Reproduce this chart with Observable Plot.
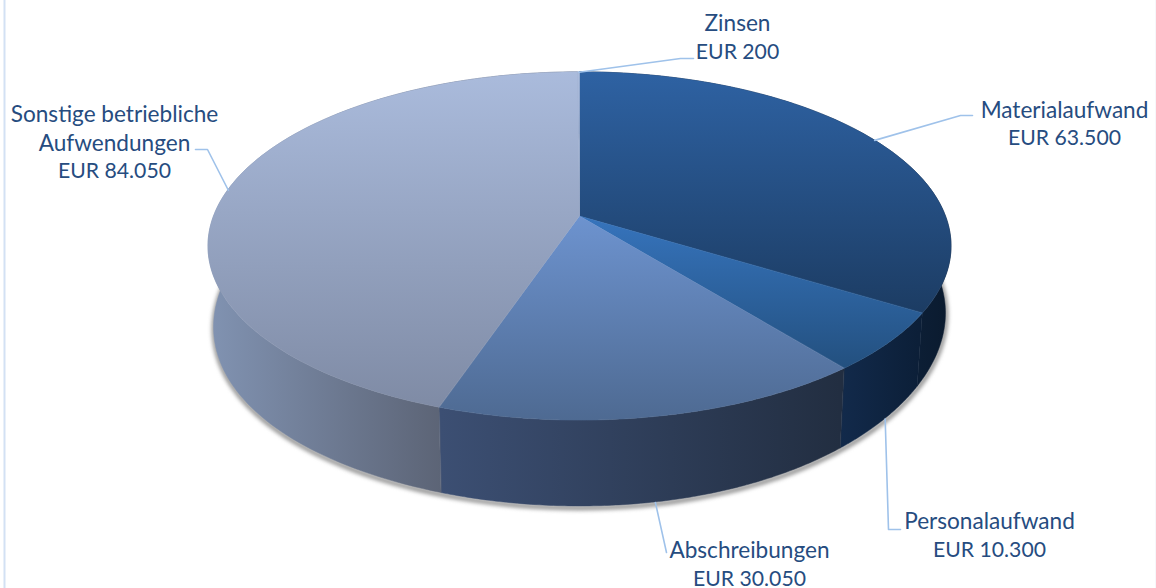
<!DOCTYPE html>
<html><head><meta charset="utf-8">
<script src="https://cdn.jsdelivr.net/npm/d3@7"></script>
<script src="https://cdn.jsdelivr.net/npm/@observablehq/plot@0.6"></script>
<style>html,body{margin:0;padding:0;background:#fff}svg{display:block}</style>
</head><body><div id="chart"></div>
<script>
// Data
const categories = ["Zinsen","Materialaufwand","Personalaufwand","Abschreibungen","Sonstige betriebliche\nAufwendungen"];
const values = [200,63500,10300,30050,84050];
const valueLabels = ["EUR 200","EUR 63.500","EUR 10.300","EUR 30.050","EUR 84.050"];

// Projection of the tilted disc (pixel space)
const cx = 579.5, k = 0.172, ax = 366;
const topPlane = {cy:216, b:169, s:1, tilt:0};
const botPlane = {cy:288, b:180.5, s:0.985, tilt:7};
const project = (t, pl) => {
  const u = Math.sin(t), v = Math.cos(t), d = 1 + k*v;
  const X = pl.s*ax*u/d;
  return [cx + X, pl.cy - pl.b*v/d - pl.tilt*Math.pow(X/366,3)];
};
const total = d3.sum(values);
const order = [1,2,3,4,0];
let acc = 0;
const slices = order.map(i => {
  const a0 = acc/total*2*Math.PI; acc += values[i];
  const a1 = acc/total*2*Math.PI;
  const ts = d3.range(0,121).map(j => a0 + (a1-a0)*j/120);
  return {i, a0, a1, mid:(a0+a1)/2, ts};
});

// Layout and style
const topStops = {
  1:["#2e62a3","#1c3c63",72,313], 2:["#3674bd","#23507f",216,368], 3:["#6d93cf","#4e6a92",216,420], 4:["#aabbdc","#7f8ba5",72,407], 0:["#aabbdc","#7f8ba5",72,407]
};
const sideStops = {
  1:["#0d2038","#0a1a2e",905,951], 2:["#122a4b","#0c1f38",840,918], 3:["#3c4f73","#222e41",441,840], 4:["#8193b2","#5c6476",208,441], 0:["#8193b2","#8193b2",208,441]
};
const labelLayout = {
  0:{x:737,nameY:21.5,valueY:51.5,elbow:[[680,58],[693,58]],plane:"top"},
  1:{x:1064,nameY:108,valueY:138,elbow:[[960,115],[972,115]],plane:"top"},
  2:{x:989,nameY:519.5,valueY:550,elbow:[[888,529],[900,529]],plane:"bot"},
  3:{x:749,nameY:548.5,valueY:578.5,elbow:[[666,552]],plane:"bot"},
  4:{x:114,nameY:127,valueY:171,elbow:[[207,149],[195,149]],plane:"top"}
};
const textColor = "#264c80", leaderColor = "#9fc2ea";

const defs = () => {
  const d = d3.create("svg:defs");
  const grad = (id, c0, c1, attrs) => {
    const g = d.append("linearGradient").attr("id", id).attr("gradientUnits","userSpaceOnUse");
    Object.entries(attrs).forEach(([a,b]) => g.attr(a,b));
    g.append("stop").attr("offset","0").attr("stop-color",c0);
    g.append("stop").attr("offset","1").attr("stop-color",c1);
  };
  for (const s of slices) {
    const p = topStops[s.i], q = sideStops[s.i];
    grad("top"+s.i, p[0], p[1], {x1:0,y1:p[2],x2:0,y2:p[3]});
    grad("side"+s.i, q[0], q[1], {x1:q[2],y1:0,x2:q[3],y2:0});
  }
  return d.node();
};

const ring = d3.range(0,361,2).map(a => a*Math.PI/180);
const shadowMark = Plot.line(ring, {
  x: t => project(t,botPlane)[0], y: t => project(t,botPlane)[1], dy:1.5,
  stroke:"#808080", strokeWidth:4, imageFilter:"blur(2px)"
});

const sideMarks = slices.map(s => Plot.area(s.ts, {
  x1: t => project(t,topPlane)[0], y1: t => project(t,topPlane)[1],
  x2: t => project(t,botPlane)[0], y2: t => project(t,botPlane)[1],
  fill:`url(#side${s.i})`, stroke:`url(#side${s.i})`, strokeWidth:0.5
}));
const topMarks = slices.map(s => Plot.area(s.ts, {
  x1: () => cx, y1: () => topPlane.cy,
  x2: t => project(t,topPlane)[0], y2: t => project(t,topPlane)[1],
  fill:`url(#top${s.i})`, stroke:`url(#top${s.i})`, strokeWidth:0.5
}));

const leaderMarks = slices.map(s => {
  const L = labelLayout[s.i];
  const start = project(s.mid, L.plane === "top" ? topPlane : botPlane);
  return Plot.line([start, ...L.elbow], {x:d=>d[0], y:d=>d[1], stroke:leaderColor, strokeWidth:1.6});
});

const nameRows = categories.map((c,i) => ({text:c, x:labelLayout[i].x, y:labelLayout[i].nameY}));
const valueRows = valueLabels.map((c,i) => ({text:c, x:labelLayout[i].x, y:labelLayout[i].valueY}));

const chart = Plot.plot({
  width:1156, height:588, margin:0,
  x:{domain:[0,1156],range:[0,1156],axis:null},
  y:{domain:[0,588],range:[0,588],axis:null},
  style:{background:"#fff",fontFamily:"Lato, Carlito, sans-serif"},
  marks:[
    defs,
    Plot.ruleX([4],{stroke:"#d3e1f4",strokeWidth:2}),
    Plot.ruleX([1155.5],{stroke:"#efeff4",strokeWidth:1}),
    shadowMark,
    ...sideMarks,
    ...topMarks,
    ...leaderMarks,
    Plot.text(nameRows,{x:"x",y:"y",text:"text",fill:textColor,fontSize:22.6,lineHeight:1.285,lineAnchor:"middle",textAnchor:"middle"}),
    Plot.text(valueRows,{x:"x",y:"y",text:"text",fill:textColor,fontSize:21.2,lineAnchor:"middle",textAnchor:"middle"})
  ]
});
document.getElementById("chart").appendChild(chart);
</script></body></html>
